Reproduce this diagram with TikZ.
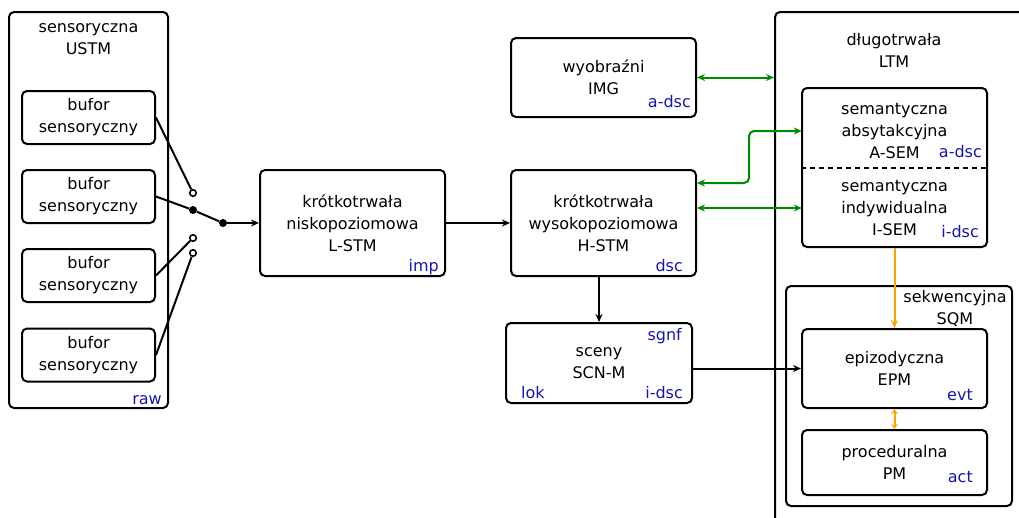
\documentclass[tikz,border=0pt]{standalone}
\usepackage{fontspec}
\setmainfont{DejaVu Sans}
\usepackage{tikz}
\usetikzlibrary{arrows.meta,calc}
\definecolor{grn}{HTML}{008A00}
\definecolor{org}{HTML}{FFA500}
\definecolor{tagc}{HTML}{1515B0}
\tikzset{
  box/.style={draw,line width=2pt,rounded corners=5pt,inner sep=0pt},
  txt/.style={align=center,font=\fontsize{16}{22}\selectfont,inner sep=0pt},
  tag/.style={text=tagc,font=\fontsize{16}{22}\selectfont,inner sep=0pt},
  wire/.style={line width=2pt},
  lnk/.style={line width=2pt,-{Stealth[length=8pt,width=7pt]}},
  glnk/.style={line width=2pt,grn,{Stealth[length=8pt,width=7pt]}-{Stealth[length=8pt,width=7pt]}},
  olnk/.style={line width=2pt,org,-{Stealth[length=8pt,width=7pt]}},
  swopen/.style={circle,draw,line width=1.6pt,fill=white,inner sep=0pt,minimum size=6.5pt},
  swdot/.style={circle,fill,inner sep=0pt,minimum size=8pt}
}

\begin{document}
\begin{tikzpicture}[x=1pt,y=-1pt]
  \useasboundingbox (0,0) rectangle (1019,517);
  \clip (0,0) rectangle (1019,517);

  % sensory part
  \node[box,minimum width=159pt,minimum height=396pt] (ustm) at (88.5,210) {};
  \node[txt] (ustm-t) at (88.5,39) {sensoryczna\\USTM};
  \node[tag,anchor=base east] (ustm-g) at (162,404) {raw};
  \foreach \i/\y in {1/117.5,2/196.5,3/275.5,4/355}
    \node[box,txt,minimum width=133pt,minimum height=53pt] (buf\i) at (88.5,\y) {bufor\\sensoryczny};

  % switch
  \node[swopen] (sw1) at (193,193) {};
  \node[swdot] (sw2) at (193,210) {};
  \node[swopen] (sw3) at (193,238) {};
  \node[swopen] (sw4) at (193,253) {};
  \node[swdot] (jn) at (223,223) {};

  % short term
  \node[box,txt,minimum width=185pt,minimum height=106pt] (lstm) at (352.5,223) {krótkotrwała\\niskopoziomowa\\L-STM};
  \node[tag,anchor=base east] (lstm-g) at (439,271) {imp};
  \node[box,txt,minimum width=185pt,minimum height=79pt] (img) at (603.5,77.5) {wyobraźni\\IMG};
  \node[tag,anchor=base east] (img-g) at (691,107) {a-dsc};
  \node[box,txt,minimum width=185pt,minimum height=106pt] (hstm) at (603.5,223) {krótkotrwała\\wysokopoziomowa\\H-STM};
  \node[tag,anchor=base east] (hstm-g) at (683,271) {dsc};
  \node[box,txt,minimum width=186pt,minimum height=80pt] (scn) at (599,363) {sceny\\SCN-M};
  \node[tag,anchor=base east] (scn-s) at (682,340) {sgnf};
  \node[tag,anchor=base west] (scn-l) at (521,398) {lok};
  \node[tag,anchor=base east] (scn-i) at (683,398) {i-dsc};

  % long term
  \node[box,minimum width=265pt,minimum height=528pt] (ltm) at (907.5,276) {};
  \node[txt] (ltm-t) at (894,50) {długotrwała\\LTM};
  \node[box,minimum width=185pt,minimum height=159pt] (sem) at (894.5,167.5) {};
  \node[txt,minimum width=185pt] (asem) at (894.5,131) {semantyczna\\absytakcyjna\\A-SEM};
  \node[tag,anchor=base east] (asem-g) at (982,157) {a-dsc};
  \node[txt,minimum width=185pt] (isem) at (894.5,208) {semantyczna\\indywidualna\\I-SEM};
  \node[tag,anchor=base east] (isem-g) at (979,237) {i-dsc};
  \coordinate (dsh) at (894.5,168);
  \draw[line width=2pt,dash pattern=on 5pt off 4pt] (sem.west |- dsh) -- (sem.east |- dsh);
  \node[box,minimum width=226pt,minimum height=220pt] (sqm) at (899,396) {};
  \node[txt] (sqm-t) at (955,308.5) {sekwencyjna\\SQM};
  \node[box,txt,minimum width=185pt,minimum height=79pt] (epm) at (894.5,368.5) {epizodyczna\\EPM};
  \node[tag,anchor=base east] (epm-g) at (973,400) {evt};
  \node[box,txt,minimum width=185pt,minimum height=65pt] (pm) at (894.5,462.5) {proceduralna\\PM};
  \node[tag,anchor=base east] (pm-g) at (973,482) {act};

  % connections
  \draw[wire] (buf1.east) -- (sw1);
  \draw[wire] (buf2.east) -- (sw2) -- (jn);
  \draw[wire] (buf3.east) -- (sw3);
  \draw[wire] (buf4.east) -- (sw4);
  \draw[lnk] (jn) -- (lstm);
  \draw[lnk] (lstm) -- (hstm);
  \draw[lnk] (hstm.south -| scn.north) -- (scn.north);
  \draw[lnk] (scn.east |- epm.west) -- (epm.west);
  \draw[glnk] (img.east) -- (img.east -| ltm.west);
  \draw[glnk,rounded corners=5pt] ([yshift=40pt]hstm.east) -- ++(52,0) |- (asem.west);
  \draw[glnk] (isem.west -| hstm.east) -- (isem.west);
  \draw[olnk] (sem.south) -- (epm.north);
  \draw[olnk,{Stealth[length=5pt,width=7pt]}-{Stealth[length=5pt,width=7pt]}] (epm.south) -- (pm.north);
\end{tikzpicture}
\end{document}
